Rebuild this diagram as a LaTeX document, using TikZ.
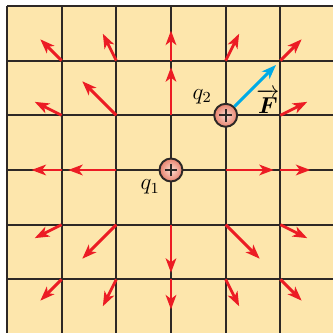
\documentclass[tikz,border=0pt]{standalone}
\usepackage{amsmath,amssymb}
\usepackage{xcolor}
\usepackage{tikz}
\usetikzlibrary{arrows.meta,positioning}
\definecolor{fdPaper}{RGB}{253,230,172}
\definecolor{fdGrid}{RGB}{45,40,38}
\definecolor{fdRed}{RGB}{236,28,36}
\definecolor{fdBlue}{RGB}{0,170,230}
\definecolor{fdPinkIn}{RGB}{252,222,208}
\definecolor{fdPinkOut}{RGB}{232,128,108}

\tikzset{
  fieldarrow/.style={draw=fdRed, line width=1.5pt, -{Stealth[length=7.5pt,width=5.5pt,inset=2pt]}},
  forcearrow/.style={draw=fdBlue, line width=1.5pt, -{Stealth[length=7.5pt,width=5.5pt,inset=2pt]}},
  charge/.style={circle, draw=fdGrid, line width=1pt, minimum size=0.42cm, inner sep=0pt,
    inner color=fdPinkIn, outer color=fdPinkOut,
    path picture={
      \draw[fdGrid, line width=1.1pt]
        ([xshift=-3.3pt]path picture bounding box.center) -- ([xshift=3.3pt]path picture bounding box.center)
        ([yshift=-3.3pt]path picture bounding box.center) -- ([yshift=3.3pt]path picture bounding box.center);
    }},
  chargelabel/.style={font=\large}
}

\begin{document}
\begin{tikzpicture}
  \useasboundingbox (-3.126,-2.98) rectangle (2.96,3.108);
  % paper and grid
  \fill[fdPaper] (-3,-2.98) rectangle (2.96,3);
  \draw[fdGrid, line width=1pt] (-3,-2.98) grid (2.96,3);
  % field of q1 at the grid points
  \foreach \x in {-2,...,2}{
    \foreach \y in {-2,...,2}{
      \pgfmathtruncatemacro\keep{((\x==0 && \y==0) || (\x==1 && \y==1)) ? 0 : 1}
      \ifnum\keep=1
        \pgfmathsetmacro\ang{atan2(\y,\x)}
        \pgfmathsetmacro\len{(max(abs(\x),abs(\y))==1) ? 0.88 : 0.55}
        \draw[fieldarrow] (\x,\y) -- ++(\ang:\len);
      \fi
    }
  }
  % charges
  \node[charge] (q1) at (0,0) {};
  \node[charge] (q2) at (1,1) {};
  \coordinate (Ftip) at (1.92,1.92);
  \draw[forcearrow] (q2) -- (Ftip);
  \node[chargelabel] (q1lab) at (-0.38,-0.31) {$q_{1}$};
  \node[chargelabel] (q2lab) at (0.57,1.34) {$q_{2}$};
  \node[chargelabel] (Flab) at (1.77,1.26) {$\overrightarrow{\boldsymbol{F}}$};
\end{tikzpicture}
\end{document}
